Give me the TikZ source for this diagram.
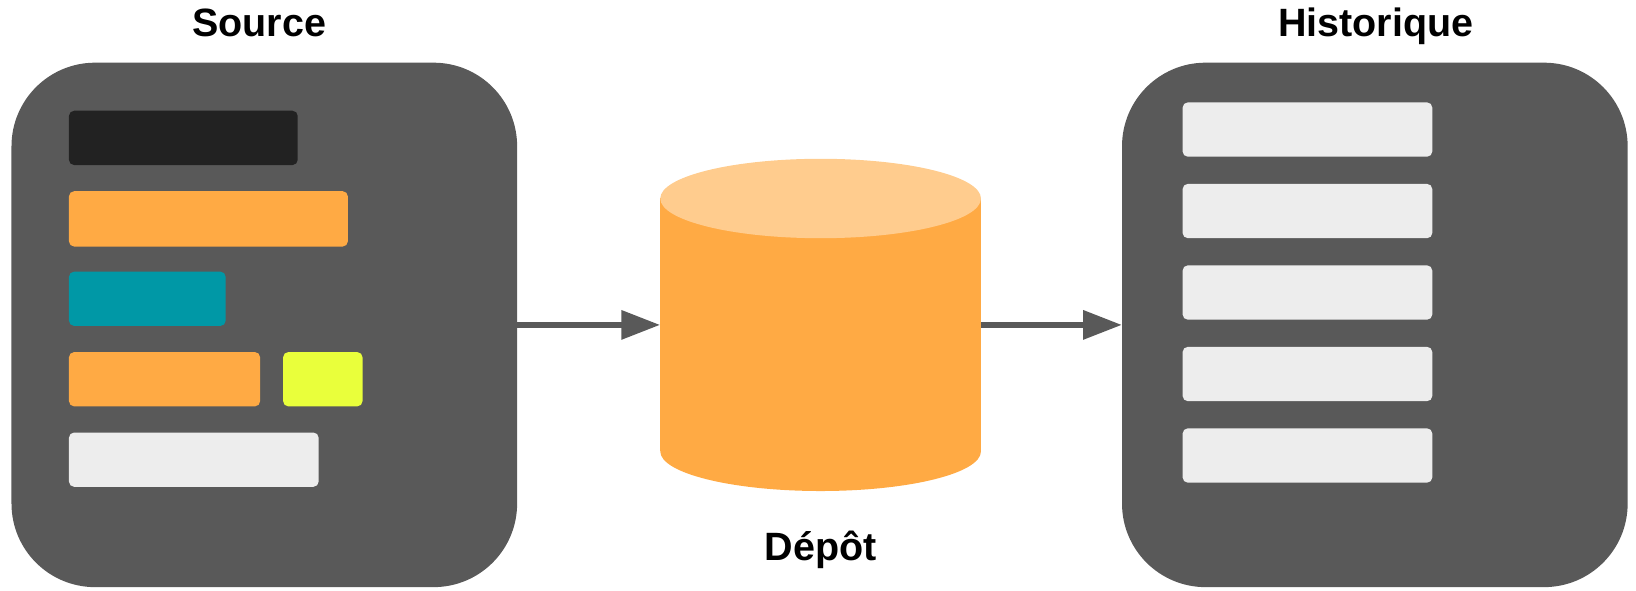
\documentclass[tikz,border=0pt]{standalone}
\usepackage{fontspec}
\setmainfont{Liberation Sans}
\usetikzlibrary{arrows.meta}
\definecolor{boxgray}{HTML}{595959}
\definecolor{barblack}{HTML}{222222}
\definecolor{barorange}{HTML}{FFAA44}
\definecolor{barteal}{HTML}{0098A6}
\definecolor{baryellow}{HTML}{E9FF3B}
\definecolor{barlight}{HTML}{EDEDED}
\definecolor{cyltop}{HTML}{FFCC8E}
\tikzset{
  panel/.style={fill=boxgray, rounded corners=80pt, inner sep=0pt},
  bar/.style={rounded corners=5pt},
  title/.style={font=\fontsize{37.8}{44}\selectfont\bfseries, anchor=base, inner sep=0pt},
  flow/.style={draw=boxgray, line width=5.4pt, -{Triangle[length=37pt,width=27pt]}}
}
\begin{document}
\begin{tikzpicture}[x=1pt,y=-1pt]
\useasboundingbox (0,0) rectangle (1566,565);
% panels
\node[panel, minimum width=484pt, minimum height=502pt] (src) at (253,311) {};
\node[panel, minimum width=484pt, minimum height=502pt] (hist) at (1316,311) {};
% source bars
\fill[bar, barblack]  (66,106) rectangle (285,158);
\fill[bar, barorange] (66,183) rectangle (333,236);
\fill[bar, barteal]   (66,260) rectangle (216,312);
\fill[bar, barorange] (66,337) rectangle (249,389);
\fill[bar, baryellow] (271,337) rectangle (347,389);
\fill[bar, barlight]  (66,414) rectangle (305,466);
% history bars
\foreach \y in {98,176,254,332,410}
  \fill[bar, barlight] (1132,\y) rectangle (1371,\y+52);
% cylinder
\node[inner sep=0pt, minimum width=307pt, minimum height=319pt] (cyl) at (785.5,311) {};
\fill[barorange] (632,190) rectangle (939,432);
\fill[barorange] (785.5,432) ellipse [x radius=153.5, y radius=38];
\fill[cyltop] (785.5,190) ellipse [x radius=153.5, y radius=38];
% titles
\node[title] (tsrc) at (248,35.4) {Source};
\node[title] (thist) at (1317,35.4) {Historique};
\node[title] (tcyl) at (785.5,536.7) {Dépôt};
% connectors
\draw[flow] (src.east) -- (cyl.west);
\draw[flow] (cyl.east) -- (hist.west);
\end{tikzpicture}
\end{document}
